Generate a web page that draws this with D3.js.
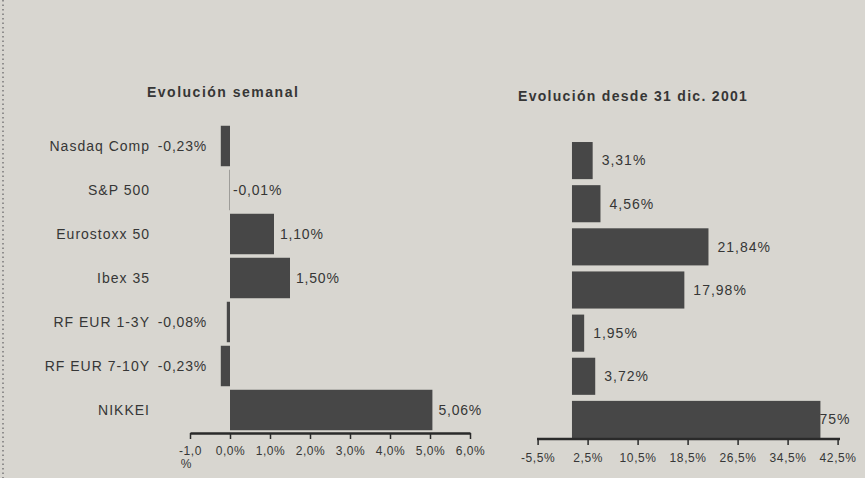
<!DOCTYPE html>
<html><head><meta charset="utf-8">
<script src="https://cdn.jsdelivr.net/npm/d3@7"></script>
<style>
html,body{margin:0;padding:0;background:#d8d6d0;}
svg{display:block;}
text{font-family:"Liberation Sans",Arial,sans-serif;fill:#363636;}
</style></head>
<body>
<svg id="chart" width="865" height="478"></svg>
<script>
const categories = ["Nasdaq Comp","S&P 500","Eurostoxx 50","Ibex 35","RF EUR 1-3Y","RF EUR 7-10Y","NIKKEI"];
const weeklyValues = [-0.23,-0.01,1.10,1.50,-0.08,-0.23,5.06];
const sinceDecValues = [3.31,4.56,21.84,17.98,1.95,3.72,39.75];
const weeklyTicks = [-1,0,1,2,3,4,5,6];
const sinceDecTicks = [-5.5,2.5,10.5,18.5,26.5,34.5,42.5];
const titles = ["Evolución semanal","Evolución desde 31 dic. 2001"];

const svg = d3.select("#chart");
const barColor = "#474747";
const fmt2 = v => v.toFixed(2).replace(".", ",") + "%";
const fmt1 = v => v.toFixed(1).replace(".", ",") + "%";

// paper background
svg.append("rect").attr("width",865).attr("height",478).attr("fill","#d8d6d0");
// dotted left border
svg.append("line").attr("x1",3).attr("x2",3).attr("y1",0).attr("y2",478)
  .attr("stroke","#777").attr("stroke-width",1.5).attr("stroke-dasharray","1.5,3");

// ---------- Left chart ----------
const xL = d3.scaleLinear().domain([-1,6]).range([190,470]);
const yL = d3.scaleBand().domain(categories).range([124,432]).paddingInner(0.08).paddingOuter(0.04);

svg.append("text").attr("x",147).attr("y",97).attr("font-weight","bold").attr("font-size",14)
  .attr("letter-spacing",1.5).text(titles[0]);

const gL = svg.append("g");
gL.selectAll("rect.bar").data(weeklyValues).join("rect")
  .attr("x",(d)=>xL(Math.min(0,d)))
  .attr("y",(d,i)=>yL(categories[i]))
  .attr("width",d=>Math.abs(xL(d)-xL(0)))
  .attr("height",yL.bandwidth())
  .attr("fill",barColor);

gL.selectAll("text.cat").data(categories).join("text")
  .attr("x",150).attr("y",d=>yL(d)+yL.bandwidth()/2).attr("dy","0.35em")
  .attr("text-anchor","end").attr("font-size",14).attr("letter-spacing",1).text(d=>d);

gL.selectAll("text.val").data(weeklyValues).join("text")
  .attr("x",d=> d <= -0.05 ? xL(Math.min(d,-0.45))-5 : (d < 0 ? xL(0)+3 : xL(d)+6))
  .attr("text-anchor",d=> d <= -0.05 ? "end" : "start")
  .attr("y",(d,i)=>yL(categories[i])+yL.bandwidth()/2).attr("dy","0.35em")
  .attr("font-size",14).attr("letter-spacing",0.8).text(fmt2);

const axL = gL.append("g").attr("transform","translate(0,433)")
  .call(d3.axisBottom(xL).tickValues(weeklyTicks).tickFormat(fmt1).tickSize(6).tickSizeOuter(0));
axL.select(".domain").attr("stroke","#2a2a2a").attr("stroke-width",2.5);
axL.selectAll(".tick line").attr("stroke","#2a2a2a").attr("stroke-width",1.5);
axL.selectAll(".tick text").attr("font-size",12).attr("letter-spacing",0.6).attr("fill","#363636").attr("y",13);
axL.selectAll(".tick text").filter(d=>d===weeklyTicks[0]).each(function(d){
  const t = d3.select(this); const s = fmt1(d);
  t.text(null);
  t.append("tspan").attr("x",0).text(s.slice(0,-1));
  t.append("tspan").attr("x",-4).attr("dy","1.1em").text("%");
});

// ---------- Right chart ----------
const xR = d3.scaleLinear().domain([-5.5,42.5]).range([537.6,837.6]);
const yR = d3.scaleBand().domain(categories).range([139,441]).paddingInner(0.14).paddingOuter(0.07);

svg.append("text").attr("x",518).attr("y",101).attr("font-weight","bold").attr("font-size",14)
  .attr("letter-spacing",1.3).text(titles[1]);

const gR = svg.append("g");
// labels first so bars overlay (the overflowing last label is partly hidden, as in the source)
gR.selectAll("text.val").data(sinceDecValues).join("text")
  .attr("font-size",14).attr("letter-spacing",1)
  .attr("y",(d,i)=>yR(categories[i])+yR.bandwidth()/2).attr("dy","0.35em")
  .text(fmt2)
  .attr("x",function(d){
    const w = this.getComputedTextLength();
    if (xR(d)+9+w <= 858) return xR(d)+9;
    const hidden = this.getSubStringLength(0, 3) + 3;
    return xR(d) + 2 - hidden;
  });

gR.selectAll("rect.bar").data(sinceDecValues).join("rect")
  .attr("x",d=>xR(Math.min(0,d)))
  .attr("y",(d,i)=>yR(categories[i]))
  .attr("width",d=>Math.abs(xR(d)-xR(0)))
  .attr("height",yR.bandwidth())
  .attr("fill",barColor);

const axR = gR.append("g").attr("transform","translate(0,439)")
  .call(d3.axisBottom(xR).tickValues(sinceDecTicks).tickFormat(fmt1).tickSize(6).tickSizeOuter(0));
axR.select(".domain").attr("stroke","#2a2a2a").attr("stroke-width",2.5).attr("d","M537,0H840");
axR.selectAll(".tick line").attr("stroke","#2a2a2a").attr("stroke-width",1.5);
axR.selectAll(".tick text").attr("font-size",12).attr("letter-spacing",0.6).attr("fill","#363636").attr("y",14);
</script>
</body></html>
